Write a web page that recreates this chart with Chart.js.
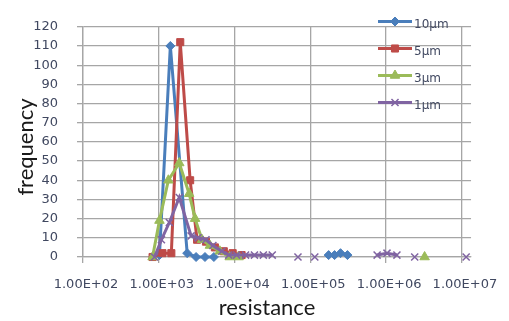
<!DOCTYPE html>
<html><head><meta charset="utf-8">
<script src="https://cdn.jsdelivr.net/npm/chart.js@4/dist/chart.umd.min.js"></script>
<style>html,body{margin:0;padding:0;background:#fff}#wrap{width:509px;height:321px}</style>
</head><body><div id="wrap"><canvas id="c" width="509" height="321"></canvas></div>
<script>
// resistance (x) / frequency (y); null breaks the line
const seriesLabels = ['10μm', '5μm', '3μm', '1μm'];
const r10 = [1021, 1421, 2370, 3106, 4071, 5336, null, 174400, 208800, 250200, 308800];
const f10 = [1, 110, 2, 0, 0, 0, null, 1, 1, 2, 1];
const r5 = [828, 1118, 1465, 1920, 2593, 3201, 4195, 5498, 7206, 9446, 12380];
const f5 = [0, 2, 2, 112, 40, 9, 8, 5, 3, 2, 1];
const r3 = [828, 1021, 1338, 1863, 2517, 3014, 3720, 4730, 6390, 8630, 11310, null, 3219000];
const f3 = [0, 19, 40, 49, 33, 20, 9, 6, 3, 0, 0, null, 0];
const r1 = [879, 1084, 1379, 1863, 2673, 3298, 4195, 5177, 6785, 8375, 10650, 13960, 18300, 23980, 31430, null, 68670, null, 114500, null, 760700, 1027000, 1388000, null, 2384000, null, 11380000];
const f1 = [0, 9, 18, 31, 11, 10, 9, 6, 3, 1, 1, 1, 1, 1, 1, null, 0, null, 0, null, 1, 2, 1, null, 0, null, 0];
const xTickValues = [1e2, 1e3, 1e4, 1e5, 1e6, 1e7];
const xTickLabels = ['1.00E+02', '1.00E+03', '1.00E+04', '1.00E+05', '1.00E+06', '1.00E+07'];
const yTitle = 'frequency';
const xTitle = 'resistance';

const colors = ['#4a7ebb', '#be4b48', '#9bbb59', '#8064a2'];
const styles = [
  {pointStyle: 'rectRot', radius: 4.5, borderWidth: 1},
  {pointStyle: 'rect', radius: 5, borderWidth: 1},
  {pointStyle: 'triangle', radius: 5.5, borderWidth: 1},
  {pointStyle: 'crossRot', radius: 5, borderWidth: 1.5}
];
function pts(rs, fs) { return rs.map((r, i) => ({x: r, y: fs[i]})); }
const all = [[r10, f10], [r5, f5], [r3, f3], [r1, f1]];
const datasets = all.map((d, i) => ({
  label: seriesLabels[i],
  data: pts(d[0], d[1]),
  showLine: true,
  spanGaps: false,
  borderColor: colors[i],
  backgroundColor: colors[i],
  borderWidth: 3,
  pointStyle: styles[i].pointStyle,
  pointRadius: styles[i].radius,
  pointBorderWidth: styles[i].borderWidth,
  pointBackgroundColor: colors[i],
  pointBorderColor: colors[i],
  order: 4 - i,
  clip: false
}));

const gridColor = '#a6a6a6';
const tickColor = '#404860';

const extras = {
  id: 'extras',
  afterDatasetsDraw(chart) {
    const ctx = chart.ctx;
    ctx.save();
    // legend
    chart.data.datasets.forEach((ds, i) => {
      const y = 21.5 + i * 27;
      ctx.strokeStyle = ds.borderColor;
      ctx.fillStyle = ds.borderColor;
      ctx.lineWidth = 3;
      ctx.beginPath(); ctx.moveTo(378, y); ctx.lineTo(412, y); ctx.stroke();
      ctx.lineWidth = ds.pointBorderWidth;
      Chart.helpers.drawPoint(ctx, {pointStyle: ds.pointStyle, radius: ds.pointRadius, borderWidth: ds.pointBorderWidth, rotation: 0}, 395, y);
      ctx.fillStyle = tickColor;
      ctx.font = '12px "DejaVu Sans"';
      ctx.textBaseline = 'middle';
      ctx.textAlign = 'left';
      ctx.fillText(ds.label, 414, y + 3);
    });
    // axis titles
    ctx.fillStyle = '#1a1a1a';
    ctx.font = '22px Lato';
    ctx.textAlign = 'center';
    ctx.textBaseline = 'alphabetic';
    ctx.fillText(xTitle, 267, 315);
    ctx.translate(33, 147);
    ctx.rotate(-Math.PI / 2);
    ctx.fillText(yTitle, 0, 0);
    ctx.restore();
  }
};

new Chart(document.getElementById('c'), {
  type: 'scatter',
  data: {datasets},
  plugins: [extras],
  options: {
    responsive: false,
    animation: false,
    devicePixelRatio: 1,
    layout: {padding: {left: 0, top: 11, right: 34, bottom: 0}},
    plugins: {legend: {display: false}, tooltip: {enabled: false}},
    scales: {
      x: {
        type: 'logarithmic',
        min: 100,
        max: 13200000,
        afterBuildTicks(axis) { axis.ticks = xTickValues.map(v => ({value: v})); },
        afterFit(scale) { scale.height = 64; },
        grid: {color: gridColor, lineWidth: 1.3, tickLength: 6},
        border: {display: true, color: gridColor, width: 1.3},
        ticks: {
          autoSkip: false, maxRotation: 0, minRotation: 0,
          color: tickColor, font: {family: 'DejaVu Sans', size: 13},
          padding: 14, labelOffset: 3,
          callback: (v, i) => xTickLabels[i]
        }
      },
      y: {
        min: 0, max: 120,
        afterFit(scale) { scale.width = 83; },
        grid: {color: gridColor, lineWidth: 1.3, tickLength: 6},
        border: {display: true, color: gridColor, width: 1.3},
        ticks: {
          stepSize: 10, color: tickColor,
          font: {family: 'DejaVu Sans', size: 13}, padding: 19
        }
      }
    }
  }
});
</script></body></html>
